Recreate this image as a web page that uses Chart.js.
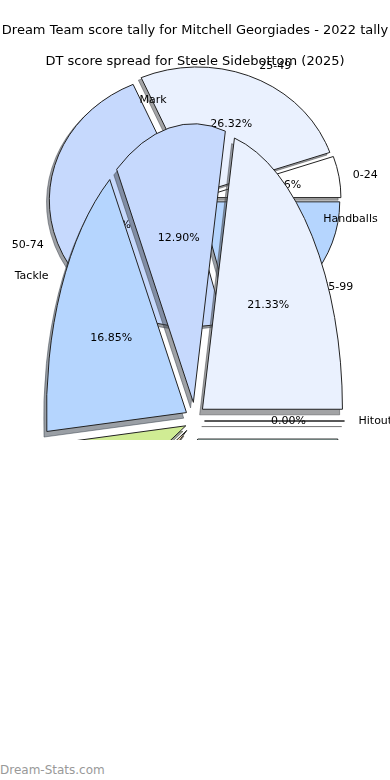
<!DOCTYPE html>
<html>
<head>
<meta charset="utf-8">
<script src="https://cdn.jsdelivr.net/npm/chart.js@4.4.1/dist/chart.umd.min.js"></script>
<style>
    body { margin: 0; background: #ffffff; }
    #lienzo { position: relative; width: 390px; height: 780px; }
    .capa { position: absolute; left: 0; top: 0; width: 390px; height: 440px; overflow: hidden; }
    #marca { position: absolute; left: 0; top: 763px; font: 12px "DejaVu Sans"; color: #999999; }
</style>
</head>
<body>
<div id="lienzo">
    <div class="capa"><canvas id="diagrama_1" width="390" height="440"></canvas></div>
    <div class="capa"><canvas id="diagrama_2" width="390" height="780"></canvas></div>
    <div id="marca">Dream-Stats.com</div>
</div>
<script>
// Mitchell Georgiades - partidos por rango de puntos (2022)
const rangos = ['0-24', '25-49', '50-74', '75-99'];
const partidos = [1, 5, 9, 4];
const coloresRangos = ['#ffffff', '#eaf1fe', '#c6d9fd', '#b5d5fe'];

// Steele Sidebottom - reparto de puntos por estadistica (2025)
const estadisticas = ['Hitout', 'Handballs', 'Mark', 'Tackle', 'Goal', 'Behind', 'Kick'];
const porcentajes = [0, 21.33, 12.90, 16.85, 6.00, 2.50, 40.42];
const coloresEstad = ['#ffffff', '#eaf1fe', '#c6d9fd', '#b5d5fe', '#d0ec94', '#f6dfb8', '#cbefe9'];

function cuna(ctx, arc, k, desp, dx, dy) {
    const mid = (arc.startAngle + arc.endAngle) / 2;
    ctx.save();
    ctx.translate(arc.x + dx, arc.y + dy);
    ctx.scale(1, k);
    ctx.translate(desp * Math.cos(mid), desp * Math.sin(mid));
    ctx.beginPath();
    ctx.moveTo(0, 0);
    ctx.arc(0, 0, arc.outerRadius, arc.startAngle, arc.endAngle);
    ctx.closePath();
    ctx.restore();
}

function sombra(color) {
    const c = parseInt(color.slice(1), 16);
    const r = Math.round(((c >> 16) & 255) * 0.3);
    const g = Math.round(((c >> 8) & 255) * 0.3);
    const b = Math.round((c & 255) * 0.3);
    return `rgba(${r}, ${g}, ${b}, 0.5)`;
}

// pastel "explotado" y estirado como el de matplotlib
const pluginCuna = {
    id: 'cuna',
    beforeDatasetsDraw(chart, args, opts) {
        const ctx = chart.ctx;
        const arcs = chart.getDatasetMeta(0).data.slice().reverse();
        const k = opts.k, desp = opts.desp;
        ctx.save();
        arcs.forEach(arc => {
            const s = 0.02 * arc.outerRadius;
            cuna(ctx, arc, k, desp, -s, s * k);
            ctx.fillStyle = ctx.strokeStyle = sombra(arc.options.backgroundColor);
            ctx.lineWidth = 1;
            ctx.fill();
            ctx.stroke();
        });
        arcs.forEach(arc => {
            const mid = (arc.startAngle + arc.endAngle) / 2;
            ctx.save();
            ctx.translate(arc.x, arc.y);
            ctx.scale(1, k);
            ctx.translate(-arc.x, -arc.y);
            ctx.translate(desp * Math.cos(mid), desp * Math.sin(mid));
            arc.draw(ctx);
            ctx.restore();
            cuna(ctx, arc, k, desp, 0, 0);
            ctx.lineWidth = 1;
            ctx.strokeStyle = '#222222';
            ctx.stroke();
        });
        ctx.restore();
        return false;
    },
    afterDraw(chart, args, opts) {
        const ctx = chart.ctx;
        const arcs = chart.getDatasetMeta(0).data;
        const datos = chart.data.datasets[0].data;
        const etiquetas = chart.data.labels;
        const total = datos.reduce((a, b) => a + b, 0);
        const k = opts.k, desp = opts.desp;
        ctx.save();
        ctx.font = '11px "DejaVu Sans"';
        ctx.fillStyle = '#000000';
        ctx.textBaseline = 'middle';
        for (let i = arcs.length - 1; i >= 0; i--) {
            const arc = arcs[i];
            const mid = (arc.startAngle + arc.endAngle) / 2;
            const c = Math.cos(mid), s = Math.sin(mid);
            const d1 = desp + 1.1 * arc.outerRadius;
            ctx.textAlign = c >= 0 ? 'left' : 'right';
            ctx.fillText(etiquetas[i], arc.x + d1 * c, arc.y + k * d1 * s);
            const d2 = desp + 0.6 * arc.outerRadius;
            ctx.textAlign = 'center';
            ctx.fillText((datos[i] / total * 100).toFixed(2) + '%', arc.x + d2 * c, arc.y + k * d2 * s);
        }
        ctx.restore();
    }
};

function pastel(canva, etiquetas, valores, colores, titulo, pad, k, desp) {
    return new Chart(canva, {
        type: 'pie',
        data: {
            labels: etiquetas.slice().reverse(),
            datasets: [{
                data: valores.slice().reverse(),
                backgroundColor: colores.slice().reverse(),
                borderWidth: 0,
                hoverBorderWidth: 0,
                hoverOffset: 0
            }]
        },
        options: {
            responsive: false,
            animation: false,
            rotation: 90,
            layout: { padding: { left: 0, right: 0, top: 0, bottom: pad.bottom } },
            plugins: {
                legend: { display: false },
                tooltip: { enabled: false },
                title: {
                    display: true,
                    text: titulo,
                    color: '#000000',
                    font: { family: 'DejaVu Sans', size: 13, weight: 'normal', lineHeight: 1.2 },
                    padding: { top: pad.top, bottom: pad.gap }
                },
                cuna: { k: k, desp: desp }
            }
        },
        plugins: [pluginCuna]
    });
}

document.addEventListener('DOMContentLoaded', function() {
    pastel(document.getElementById('diagrama_1'), rangos, partidos, coloresRangos,
        'Dream Team score tally for Mitchell Georgiades - 2022 tally',
        { top: 23, gap: 19.9, bottom: 101.5 }, 0.904, 6);
    pastel(document.getElementById('diagrama_2'), estadisticas, porcentajes, coloresEstad,
        'DT score spread for Steele Sidebottom (2025)',
        { top: 54, gap: 211.4, bottom: 219 }, 1.99, 9.5);
});
</script>
</body>
</html>
